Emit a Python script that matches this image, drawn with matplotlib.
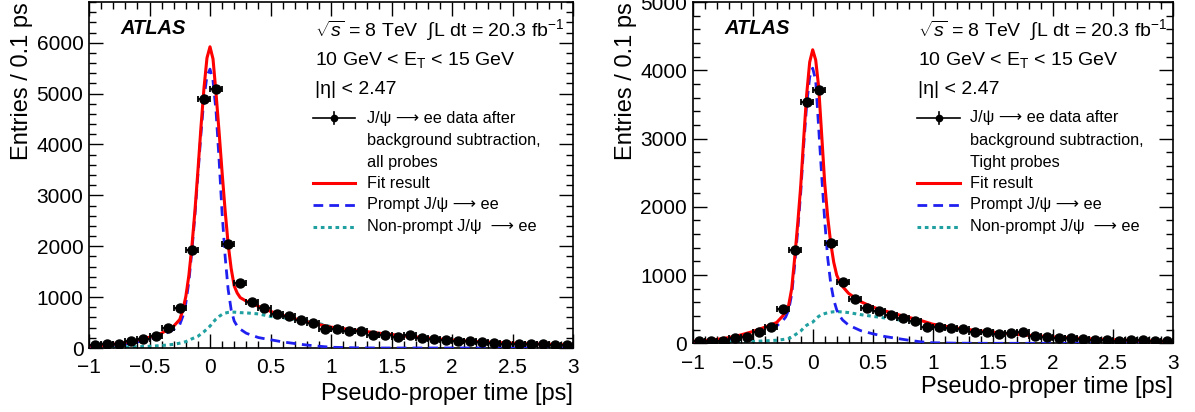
import matplotlib
matplotlib.use("Agg")
import matplotlib.pyplot as plt
from matplotlib.ticker import MultipleLocator, FixedLocator

plt.rcParams['font.family'] = ['Liberation Sans', 'DejaVu Sans']
plt.rcParams['mathtext.fontset'] = 'custom'
plt.rcParams['mathtext.rm'] = 'Liberation Sans'
plt.rcParams['mathtext.it'] = 'Liberation Sans:italic'
plt.rcParams['mathtext.bf'] = 'Liberation Sans:bold'

# ---------------- data ----------------
bin_centers = [-0.95, -0.85, -0.75, -0.65, -0.55, -0.45, -0.35, -0.25, -0.15, -0.05,
               0.05, 0.15, 0.25, 0.35, 0.45, 0.55, 0.65, 0.75, 0.85, 0.95,
               1.05, 1.15, 1.25, 1.35, 1.45, 1.55, 1.65, 1.75, 1.85, 1.95,
               2.05, 2.15, 2.25, 2.35, 2.45, 2.55, 2.65, 2.75, 2.85, 2.95]
bin_half_width = 0.05

data_all = [65, 72, 78, 144, 177, 242, 386, 779, 1917, 4888,
            5096, 2053, 1276, 897, 779, 667, 635, 556, 484, 380,
            366, 340, 334, 262, 262, 222, 255, 203, 177, 157,
            144, 137, 124, 92, 85, 78, 78, 72, 59, 65]
data_tight = [39, 39, 34, 78, 93, 166, 244, 508, 1366, 3528,
              3709, 1464, 903, 644, 522, 478, 420, 376, 327, 244,
              244, 224, 215, 166, 161, 142, 156, 161, 107, 88,
              83, 73, 68, 54, 44, 39, 44, 44, 34, 29]

curve_t = [-1.0, -0.9, -0.8, -0.7, -0.6, -0.5, -0.4, -0.3, -0.25, -0.225, -0.2, -0.175,
           -0.15, -0.125, -0.1, -0.075, -0.05, -0.025, 0.0, 0.025, 0.05, 0.075, 0.1,
           0.125, 0.15, 0.175, 0.2, 0.225, 0.25, 0.3, 0.4, 0.5, 0.6, 0.7, 0.8, 0.9,
           1.0, 1.2, 1.4, 1.6, 1.8, 2.0, 2.2, 2.4, 2.6, 2.8, 3.0]

fit_all = [38, 50, 72, 110, 155, 212, 290, 430, 560, 740, 1010, 1420,
           1990, 2680, 3480, 4330, 5100, 5700, 5920, 5680, 5000, 4250, 3450,
           2700, 2040, 1560, 1220, 1080, 990, 920, 820, 720, 645, 575, 515, 462,
           410, 350, 290, 238, 194, 157, 126, 104, 85, 72, 59]
prompt_all = [25, 35, 52, 80, 120, 175, 250, 365, 460, 620, 880, 1300,
              1900, 2600, 3400, 4200, 4900, 5350, 5480, 5250, 4650, 3700, 2650,
              1800, 1150, 750, 530, 430, 370, 290, 205, 162, 120, 88, 58, 35,
              15, 4, 0, 0, 0, 0, 0, 0, 0, 0, 0]
nonprompt_all = [8, 12, 15, 20, 25, 33, 48, 72, 95, 108, 125, 150,
                 180, 205, 230, 275, 320, 375, 430, 505, 570, 620, 660,
                 685, 700, 703, 705, 700, 695, 690, 670, 620, 595, 565, 530, 480,
                 420, 352, 288, 235, 192, 155, 124, 100, 80, 65, 52]

fit_tight = [29, 39, 57, 83, 122, 172, 235, 305, 400, 460, 560, 800,
             1250, 1750, 2300, 3000, 3650, 4120, 4300, 4150, 3750, 3050, 2350,
             1850, 1470, 1190, 1000, 900, 830, 730, 610, 530, 475, 425, 380, 335,
             280, 222, 180, 146, 117, 93, 73, 59, 46, 36, 29]
prompt_tight = [18, 26, 40, 62, 98, 140, 190, 255, 330, 385, 490, 720,
                1150, 1650, 2200, 2900, 3500, 3900, 4030, 3850, 3150, 2450, 1800,
                1250, 880, 640, 490, 400, 340, 265, 185, 140, 100, 72, 45, 22,
                8, 2, 0, 0, 0, 0, 0, 0, 0, 0, 0]
nonprompt_tight = [8, 10, 15, 18, 22, 28, 35, 45, 55, 62, 70, 90,
                   120, 150, 180, 225, 265, 290, 310, 355, 395, 420, 435,
                   448, 456, 462, 464, 462, 458, 450, 420, 395, 372, 348, 320, 290,
                   250, 210, 174, 142, 113, 90, 71, 57, 45, 35, 28]

xticks = [-1, -0.5, 0, 0.5, 1, 1.5, 2, 2.5, 3]
xtick_labels = ['\u22121', '\u22120.5', '0', '0.5', '1', '1.5', '2', '2.5', '3']
yticks_all = [0, 1000, 2000, 3000, 4000, 5000, 6000]
yticks_tight = [0, 1000, 2000, 3000, 4000, 5000]

energy_text = r'10 GeV < E$_{\mathrm{T}}$ < 15 GeV'
lumi_text = r'$\sqrt{s}$ = 8 TeV  $\int$L dt = 20.3 fb$^{-1}$'
eta_text = '|\u03b7| < 2.47'
data_label_all = ['J/\u03c8 \u27f6 ee data after', 'background subtraction,', 'all probes']
data_label_tight = ['J/\u03c8 \u27f6 ee data after', 'background subtraction,', 'Tight probes']
fit_label = 'Fit result'
prompt_label = 'Prompt J/\u03c8 \u27f6 ee'
nonprompt_label = 'Non-prompt J/\u03c8  \u27f6 ee'

# ---------------- figure ----------------
W, H = 1195, 412
fig = plt.figure(figsize=(W / 100, H / 100), dpi=100)

RED = '#ff0000'
BLUE = '#1f1ff0'
TEAL = '#20a0a0'


def px_axes(l, r, t, b):
    return [l / W, 1 - b / H, (r - l) / W, (b - t) / H]


def make_panel(rect, data, fit, prompt, nonprompt, ymax, yticks, data_label,
               rows_px, text_x_px, leg_px, atlas_px, ylab_x, xlab_y):
    ax = fig.add_axes(rect)
    l = rect[0] * W
    wpx = rect[2] * W
    bpx = (1 - rect[1]) * H
    hpx = rect[3] * H

    def fx(px):
        return (px - l) / wpx

    def fy(py):
        return (bpx - py) / hpx

    ax.plot(curve_t, nonprompt, color=TEAL, lw=2.2, linestyle=(0, (1.2, 1.2)), zorder=2)
    ax.plot(curve_t, prompt, color=BLUE, lw=2.0, linestyle=(0, (3.5, 2.2)), zorder=3)
    ax.plot(curve_t, fit, color=RED, lw=2.2, zorder=4)
    ax.errorbar(bin_centers, data, xerr=bin_half_width, fmt='o', color='black',
                ms=6.5, elinewidth=1.3, capsize=2, capthick=1.3, zorder=5)

    ax.set_xlim(-1, 3)
    ax.set_ylim(0, ymax)
    ax.xaxis.set_major_locator(FixedLocator(xticks))
    ax.set_xticklabels(xtick_labels)
    ax.xaxis.set_minor_locator(MultipleLocator(0.1))
    ax.yaxis.set_major_locator(FixedLocator(yticks))
    ax.set_yticklabels([str(v) for v in yticks])
    ax.yaxis.set_minor_locator(MultipleLocator(200))
    ax.tick_params(which='both', direction='in', top=True, right=True,
                   labelsize=15, width=1.0, colors='black')
    ax.tick_params(which='major', length=10)
    ax.tick_params(which='minor', length=5)
    ax.tick_params(axis='x', pad=7.5)
    ax.tick_params(axis='y', pad=4)
    for s in ax.spines.values():
        s.set_linewidth(1.2)

    ax.set_xlabel('Pseudo-proper time [ps]', fontsize=17, loc='right')
    ax.xaxis.set_label_coords(1.0, xlab_y)
    ax.set_ylabel('Entries / 0.1 ps', fontsize=17, loc='top')
    ax.yaxis.set_label_coords(ylab_x, 1.0)

    ax.text(fx(atlas_px[0]), fy(atlas_px[1]), 'ATLAS', transform=ax.transAxes,
            fontsize=14.5, fontweight='bold', fontstyle='italic', va='center', ha='left')

    tx = fx(text_x_px)
    ax.text(tx, fy(rows_px[0]), lumi_text, transform=ax.transAxes, fontsize=14,
            va='center', ha='left')
    ax.text(tx, fy(rows_px[1]), energy_text, transform=ax.transAxes, fontsize=14,
            va='center', ha='left')
    ax.text(tx, fy(rows_px[2]), eta_text, transform=ax.transAxes, fontsize=14,
            va='center', ha='left')

    hx0, hx1, ltx = fx(leg_px[0]), fx(leg_px[1]), fx(leg_px[2])
    hxm = (hx0 + hx1) / 2
    lr = rows_px[3:]
    # data handle
    y0 = fy(lr[0])
    ax.plot([hx0, hx1], [y0, y0], transform=ax.transAxes, color='black', lw=1.2)
    ax.plot([hxm, hxm], [y0 - 0.018, y0 + 0.018], transform=ax.transAxes,
            color='black', lw=1.2)
    ax.plot([hxm], [y0], 'o', transform=ax.transAxes, color='black', ms=4.5)
    for i, line in enumerate(data_label):
        ax.text(ltx, fy(lr[i]), line, transform=ax.transAxes, fontsize=11.7,
                va='center', ha='left')
    y3 = fy(lr[3])
    ax.plot([hx0, hx1], [y3, y3], transform=ax.transAxes, color=RED, lw=2.2)
    ax.text(ltx, y3, fit_label, transform=ax.transAxes, fontsize=11.7, va='center', ha='left')
    y4 = fy(lr[4])
    ax.plot([hx0, hx1], [y4, y4], transform=ax.transAxes, color=BLUE, lw=2.0,
            linestyle=(0, (3.5, 2.2)))
    ax.text(ltx, y4, prompt_label, transform=ax.transAxes, fontsize=11.7, va='center', ha='left')
    y5 = fy(lr[5])
    ax.plot([hx0, hx1], [y5, y5], transform=ax.transAxes, color=TEAL, lw=2.2,
            linestyle=(0, (1.2, 1.2)))
    ax.text(ltx, y5, nonprompt_label, transform=ax.transAxes, fontsize=11.7, va='center', ha='left')
    return ax


rows = [30, 60, 90, 118, 140, 162, 183, 205, 227]

make_panel(px_axes(89, 573, 2, 348), data_all, fit_all, prompt_all, nonprompt_all,
           6800, yticks_all, data_label_all, rows, 315, (313, 355, 367), (120, 28),
           -0.115, -0.10)
make_panel(px_axes(692.7, 1172.7, 2, 343.3), data_tight, fit_tight, prompt_tight,
           nonprompt_tight, 5000, yticks_tight, data_label_tight, rows, 918,
           (917, 960, 970), (724, 29), -0.116, -0.097)

fig.savefig('out.png', dpi=100)
